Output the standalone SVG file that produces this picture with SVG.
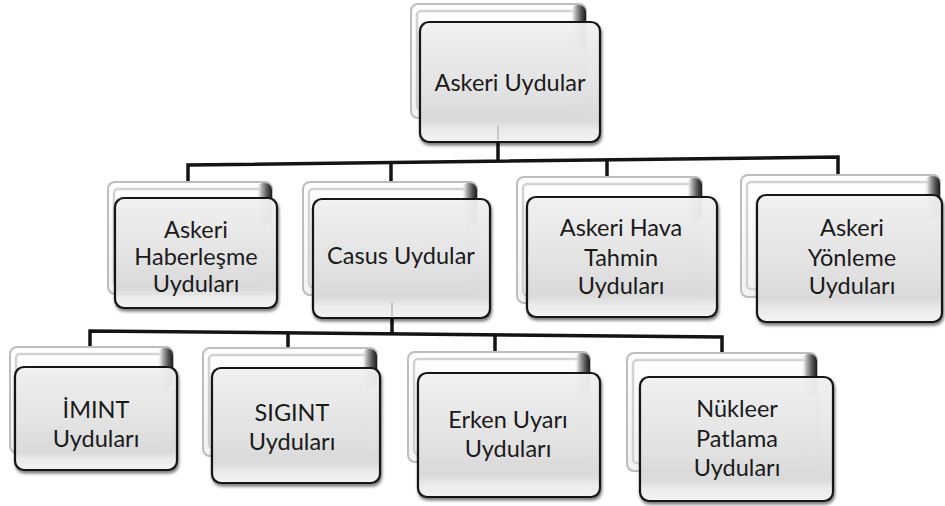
<svg xmlns="http://www.w3.org/2000/svg" width="945" height="506" viewBox="0 0 945 506">
<defs>
<linearGradient id="gFront" x1="0" y1="0" x2="0" y2="1">
<stop offset="0" stop-color="#f4f4f4"/>
<stop offset="0.55" stop-color="#e6e6e6"/>
<stop offset="0.82" stop-color="#dcdcdc"/>
<stop offset="0.9" stop-color="#eeeeee"/>
<stop offset="1" stop-color="#f6f6f6"/>
</linearGradient>
<linearGradient id="gBack" x1="0" y1="0" x2="0" y2="1">
<stop offset="0" stop-color="#ffffff"/>
<stop offset="1" stop-color="#f2f2f2"/>
</linearGradient>
<linearGradient id="gEdge" x1="0" y1="0" x2="1" y2="0">
<stop offset="0" stop-color="#ffffff" stop-opacity="0"/>
<stop offset="0.35" stop-color="#b0b0b0"/>
<stop offset="0.7" stop-color="#555555"/>
<stop offset="1" stop-color="#1a1a1a"/>
</linearGradient>
<filter id="sh" x="-10%" y="-10%" width="125%" height="130%">
<feDropShadow dx="1" dy="2.5" stdDeviation="1.6" flood-color="#000" flood-opacity="0.55"/>
</filter>
</defs>
<style>
.back{fill:url(#gBack);stroke:#bdbdbd;stroke-width:2}
.inner{fill:none;stroke:#d2d2d2;stroke-width:2.5}
.edge{fill:url(#gEdge)}
.front{fill:url(#gFront);fill-opacity:0.93;stroke:#141414;stroke-width:2.2;filter:url(#sh)}
.conn{fill:none;stroke:#141414;stroke-width:3.5;stroke-linejoin:miter}
.faint{stroke:#c8c8c8;stroke-width:2}
text{font-family:Lato,"Open Sans","Liberation Sans",sans-serif;font-size:23.5px;fill:#1a1a1a;text-anchor:middle}
</style>

<g id="connectors">
<line class="conn" x1="498" y1="141" x2="498" y2="161"/>
<polyline class="conn" points="188,182 188,165 838,157 838,177"/>
<line class="conn" x1="391" y1="163" x2="391" y2="183"/>
<line class="conn" x1="607" y1="160" x2="607" y2="178"/>
<line class="conn" x1="392" y1="317" x2="392" y2="334"/>
<polyline class="conn" points="90,346 90,331 722,337 722,354"/>
<line class="conn" x1="288" y1="333" x2="288" y2="349"/>
<line class="conn" x1="495" y1="334" x2="495" y2="353"/>
</g>

<g id="n-askeri-uydular">
<rect class="back" x="411" y="4" width="175" height="114" rx="7"/>
<rect class="inner" x="417" y="11" width="158" height="99" rx="4"/>
<rect class="edge" x="570" y="5" width="16" height="44" rx="7"/>
<rect class="front" x="420" y="22" width="180" height="120" rx="9"/>
<line class="faint" x1="498" y1="126" x2="498" y2="140"/>
<text x="510" y="91">Askeri Uydular</text>
</g>

<g id="n-haberlesme">
<rect class="back" x="108" y="182" width="164" height="112" rx="7"/>
<rect class="inner" x="114" y="189" width="148" height="97" rx="4"/>
<rect class="edge" x="256" y="183" width="16" height="42" rx="7"/>
<rect class="front" x="115" y="198" width="162" height="110" rx="9"/>
<text x="196" y="238">Askeri</text>
<text x="196" y="265">Haberleşme</text>
<text x="196" y="292">Uyduları</text>
</g>

<g id="n-casus">
<rect class="back" x="303" y="182" width="174" height="113" rx="7"/>
<rect class="inner" x="309" y="189" width="158" height="98" rx="4"/>
<rect class="edge" x="461" y="183" width="16" height="42" rx="7"/>
<rect class="front" x="313" y="199" width="177" height="119" rx="9"/>
<line class="faint" x1="392" y1="302" x2="392" y2="316"/>
<text x="401" y="264">Casus Uydular</text>
</g>

<g id="n-hava">
<rect class="back" x="517" y="177" width="185" height="126" rx="7"/>
<rect class="inner" x="523" y="184" width="169" height="111" rx="4"/>
<rect class="edge" x="686" y="178" width="16" height="44" rx="7"/>
<rect class="front" x="527" y="197" width="190" height="120" rx="9"/>
<text x="621" y="236">Askeri Hava</text>
<text x="621" y="266">Tahmin</text>
<text x="621" y="294">Uyduları</text>
</g>

<g id="n-yonleme">
<rect class="back" x="741" y="175" width="199" height="122" rx="7"/>
<rect class="inner" x="747" y="182" width="183" height="107" rx="4"/>
<rect class="edge" x="924" y="176" width="16" height="44" rx="7"/>
<rect class="front" x="757" y="195" width="185" height="127" rx="9"/>
<text x="852" y="236">Askeri</text>
<text x="852" y="266">Yönleme</text>
<text x="852" y="294">Uyduları</text>
</g>

<g id="n-imint">
<rect class="back" x="10" y="347" width="163" height="106" rx="7"/>
<rect class="inner" x="16" y="354" width="147" height="91" rx="4"/>
<rect class="edge" x="157" y="348" width="16" height="40" rx="7"/>
<rect class="front" x="15" y="367" width="162" height="103" rx="9"/>
<text x="96" y="418">İMINT</text>
<text x="96" y="447">Uyduları</text>
</g>

<g id="n-sigint">
<rect class="back" x="203" y="348" width="174" height="108" rx="7"/>
<rect class="inner" x="209" y="355" width="158" height="93" rx="4"/>
<rect class="edge" x="361" y="349" width="16" height="40" rx="7"/>
<rect class="front" x="212" y="368" width="168" height="115" rx="9"/>
<text x="292" y="421">SIGINT</text>
<text x="292" y="450">Uyduları</text>
</g>

<g id="n-erken">
<rect class="back" x="408" y="352" width="182" height="110" rx="7"/>
<rect class="inner" x="414" y="359" width="166" height="95" rx="4"/>
<rect class="edge" x="574" y="353" width="16" height="40" rx="7"/>
<rect class="front" x="418" y="373" width="182" height="124" rx="9"/>
<text x="508" y="428">Erken Uyarı</text>
<text x="508" y="457">Uyduları</text>
</g>

<g id="n-nukleer">
<rect class="back" x="627" y="353" width="190" height="118" rx="7"/>
<rect class="inner" x="633" y="360" width="174" height="103" rx="4"/>
<rect class="edge" x="801" y="354" width="16" height="42" rx="7"/>
<rect class="front" x="640" y="377" width="193" height="124" rx="9"/>
<text x="737" y="417">Nükleer</text>
<text x="737" y="447">Patlama</text>
<text x="737" y="476">Uyduları</text>
</g>
</svg>
